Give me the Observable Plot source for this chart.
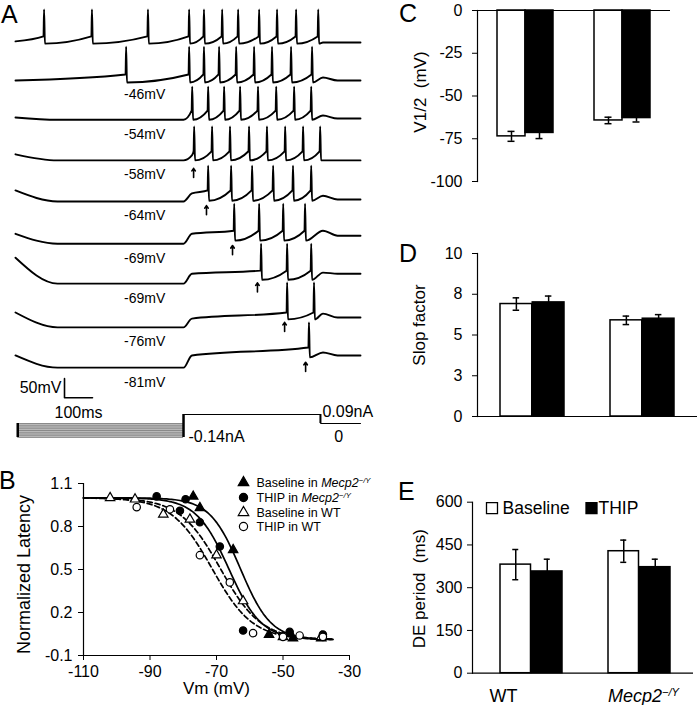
<!DOCTYPE html>
<html><head><meta charset="utf-8">
<script src="https://cdn.jsdelivr.net/npm/d3@7"></script>
<script src="https://cdn.jsdelivr.net/npm/@observablehq/plot@0.6"></script>
<style>
body{margin:0;background:#fff;}
#fig{position:relative;width:700px;height:705px;overflow:hidden;font-family:"Liberation Sans",Arial,sans-serif;background:#fff;color:#000;}
.plabel{position:absolute;font-size:25px;line-height:25px;}
.holder{position:absolute;}
</style></head><body><div id="fig"></div>
<script>
// ================= DATA =================
// ---- Panel A: voltage traces (ms, mV relative to each trace's resting level) ----
const traceOffset   = [0, -100, -200, -310, -413, -508, -608, -723, -823];
const traceLabel    = [null, "-46mV", "-54mV", "-58mV", "-64mV", "-69mV", "-69mV", "-76mV", "-81mV"];
const traceStart    = [3, 0, 3, 16, 24, 5, 42, 13, 0];
const traceSag      = [3, 0, -3, 0, -5, -21, -26, -26, -32];
const tracePlateau  = [9, 8, 11, 13, 16, 5, 0, -3, 0];
const tracePreSpike = [16, 16, 21, 24, 24, 13, 8, 13, 21];
const traceSpikeTop = [87, 89, 84, 89, 89, 84, 79, 92, 87];
const traceTrough   = [-3, -5, -3, 0, -3, -13, -16, -5, -5];
const traceBump     = [0, 8, 8, 0, 10, 13, 3, 10, 8];
const spikeTimes = [
  [100, 271, 471, 618, 671, 736, 793, 868, 932, 1000, 1079],
  [393, 618, 671, 725, 786, 850, 914, 982, 1057],
  [629, 686, 743, 800, 864, 929, 993, 1054],
  [636, 700, 764, 832, 896, 961, 1025, 1086],
  [686, 768, 843, 918, 989, 1054],
  [779, 868, 954, 1032],
  [875, 968, 1054],
  [968, 1064],
  [1046]
];
const arrowTrace = [3, 4, 5, 6, 7, 8];
const arrowTime  = [636, 682, 775, 864, 961, 1036];
const arrowTip   = [-21, -16, -26, -24, -13, -18];
const labelTime = 461;
const scaleBarT = [175, 175, 275];
const scaleBarV = [-884, -934, -934];
// protocol timing (ms)
const sagT = 150, stepOnT = 600, plateauT = 630, stepOffT = 1089, bumpT = 1098, settleT = 1150, endT = 1232;
// ---- Panel A: current protocol (nA) ----
const stimStartT = 8;
const hyperLevels = [0, -0.0175, -0.035, -0.0525, -0.07, -0.0875, -0.105, -0.1225, -0.14];
const depolT = [stepOnT, stepOffT, stepOffT, endT];
const depolI = [0.09, 0.09, 0, 0];

// ---- Panel B: normalized latency vs Vm ----
const seriesNames = ["Baseline in Mecp2\u2212/Y", "THIP in Mecp2\u2212/Y", "Baseline in WT", "THIP in WT"];
const seriesSymbol = ["triangle", "circle", "triangle", "circle"];
const seriesFill = ["black", "black", "white", "white"];
const vmBaseMecp2  = [-77, -75, -65, -54.2, -47, -38.5];
const latBaseMecp2 = [1.01, 0.93, 0.637, 0.046, 0.02, 0.02];
const vmThipMecp2  = [-88, -79.3, -81, -75, -69, -62, -48, -38];
const latThipMecp2 = [1.01, 0.99, 0.91, 0.83, 0.66, 0.074, 0.065, 0.047];
const vmBaseWT  = [-102, -94.5, -86, -78, -70, -62, -50, -38.5];
const latBaseWT = [1.0, 0.99, 0.885, 0.85, 0.6, 0.28, 0.03, 0.03];
const vmThipWT  = [-94, -84, -75, -66, -59, -50, -45, -38];
const latThipWT = [0.935, 0.92, 0.6, 0.41, 0.056, 0.03, 0.04, 0.03];
// Boltzmann fits
const fitV50   = [-62.8, -66.3, -68.8, -71.3];
const fitSlope = [4.6, 4.9, 6.1, 6.1];
const fitTop = 1.0, fitBottom = 0.01;
const fitRange = [-110, -35];

// ---- Panels C, D, E ----
const genotypes = ["WT", "Mecp2"];
const v12Base = [-73.6, -64.3], v12BaseErr = [2.9, 1.9];
const v12Thip = [-71.6, -62.9], v12ThipErr = [3.3, 2.3];
const slopeBase = [6.9, 5.9], slopeBaseErr = [0.38, 0.26];
const slopeThip = [7.0, 6.0], slopeThipErr = [0.39, 0.25];
const deBase = [381, 428], deBaseErr = [53, 39];
const deThip = [357, 372], deThipErr = [43, 28];

// ================= DRAWING =================
const fig = document.getElementById("fig");
const FONT = "Liberation Sans, Arial, sans-serif";
const baseStyle = {background: "transparent", fontFamily: FONT, fontSize: "16px", overflow: "visible", maxWidth: "none", color: "black"};
const fmt = d => String(d);
const ns = "http://www.w3.org/2000/svg";

function place(el, left, top, w, h) {
  const d = document.createElement("div");
  d.className = "holder";
  d.style.left = left + "px"; d.style.top = top + "px";
  d.style.width = w + "px"; d.style.height = h + "px";
  d.appendChild(el);
  fig.appendChild(d);
  geneStyle(el);
}
function geneStyle(svg) {
  svg.querySelectorAll("text").forEach(t => {
    const s = t.textContent;
    const i = s.indexOf("Mecp2");
    if (i < 0) return;
    const pre = s.slice(0, i), sup = s.slice(i + 5);
    while (t.firstChild) t.removeChild(t.firstChild);
    if (pre) t.appendChild(document.createTextNode(pre));
    const it = document.createElementNS(ns, "tspan");
    it.setAttribute("font-style", "italic"); it.textContent = "Mecp2"; t.appendChild(it);
    if (sup) {
      const su = document.createElementNS(ns, "tspan");
      su.setAttribute("font-style", "italic"); su.setAttribute("dy", "-0.5em");
      su.setAttribute("font-size", "0.62em"); su.textContent = sup; t.appendChild(su);
    }
  });
}
function letter(ch, left, top) {
  const d = document.createElement("div");
  d.className = "plabel"; d.textContent = ch;
  d.style.left = left + "px"; d.style.top = top + "px";
  fig.appendChild(d);
}

// ---------- Panel A traces ----------
function buildTrace(k) {
  const pts = [];
  const push = (t, v) => pts.push({trace: k, t, v: traceOffset[k] + v});
  const sp = spikeTimes[k];
  push(0, traceStart[k]);
  if (sp[0] > stepOnT) {
    push(sagT, traceSag[k]);
    push(stepOnT, traceSag[k]);
    if (sp[0] > plateauT + 5) push(plateauT, tracePlateau[k]);
  }
  sp.forEach(ts => {
    push(ts, tracePreSpike[k]);
    push(ts + 2, traceSpikeTop[k]);
    push(ts + 5, traceTrough[k]);
  });
  const last = sp[sp.length - 1] + 5;
  if (last < bumpT) push(bumpT, traceBump[k]);
  push(settleT, 0);
  push(endT, 0);
  return pts;
}
const traceRows = traceOffset.flatMap((_, k) => buildTrace(k));
const labelRows = traceLabel.map((label, k) => ({label, t: labelTime, v: traceOffset[k] + traceSag[k] - 38})).filter(d => d.label);
const arrowRows = arrowTrace.map((k, i) => ({t: arrowTime[i], y1: traceOffset[k] + arrowTip[i] - 24, y2: traceOffset[k] + arrowTip[i]}));
const scaleRows = scaleBarT.map((t, i) => ({t, v: scaleBarV[i]}));

const plotA = Plot.plot({
  width: 380, height: 420, marginLeft: 15, marginRight: 20, marginTop: 0, marginBottom: 0,
  style: baseStyle,
  x: {domain: [0, endT], axis: null},
  y: {domain: [-994, 110.5], axis: null},
  marks: [
    Plot.line(traceRows, {x: "t", y: "v", z: "trace", curve: "monotone-x", stroke: "black", strokeWidth: 1.9}),
    Plot.text(labelRows, {x: "t", y: "v", text: "label", fontSize: 14}),
    Plot.arrow(arrowRows, {x1: "t", x2: "t", y1: "y1", y2: "y2", headLength: 5, headAngle: 70, strokeWidth: 1.6, stroke: "black"}),
    Plot.line(scaleRows, {x: "t", y: "v", stroke: "black", strokeWidth: 1.6}),
    Plot.text(["50mV"], {x: scaleBarT[0], y: (scaleBarV[0] + scaleBarV[1]) / 2, text: d => d, textAnchor: "end", dx: -3, fontSize: 16}),
    Plot.text(["100ms"], {x: (scaleBarT[1] + scaleBarT[2]) / 2, y: scaleBarV[2], text: d => d, dy: 15, fontSize: 16})
  ]
});
place(plotA, 0, 0, 380, 420);

// ---------- Panel A stimulus ----------
const depolRows = depolT.map((t, i) => ({t, i: depolI[i]}));
const plotStim = Plot.plot({
  width: 380, height: 45, marginLeft: 15, marginRight: 20, marginTop: 0, marginBottom: 0,
  style: baseStyle,
  x: {domain: [0, endT], axis: null},
  y: {domain: [-0.27, 0.18], axis: null},
  marks: [
    Plot.areaY([stimStartT, stepOnT], {x: d => d, y1: hyperLevels[0], y2: hyperLevels[hyperLevels.length - 1], fill: "#c9c9c9"}),
    Plot.ruleY(hyperLevels, {x1: stimStartT, x2: stepOnT, stroke: "#7a7a7a", strokeWidth: 0.8}),
    Plot.ruleX([stimStartT], {y1: hyperLevels[hyperLevels.length - 1], y2: 0, stroke: "black", strokeWidth: 2.5}),
    Plot.ruleX([stepOnT], {y1: hyperLevels[hyperLevels.length - 1], y2: depolI[0], stroke: "black", strokeWidth: 2.5}),
    Plot.ruleX([stepOffT], {y1: 0, y2: depolI[0], stroke: "black", strokeWidth: 2}),
    Plot.line(depolRows, {x: "t", y: "i", stroke: "black", strokeWidth: 1}),
    Plot.text(["-0.14nA"], {x: stepOnT, y: hyperLevels[hyperLevels.length - 1], text: d => d, textAnchor: "start", dx: 5, dy: -1, fontSize: 16}),
    Plot.text(["0.09nA"], {x: stepOffT, y: depolI[0], text: d => d, textAnchor: "start", dx: 2, dy: -3, fontSize: 16}),
    Plot.text(["0"], {x: (stepOffT + endT) / 2 - 6, y: 0, text: d => d, dy: 13, fontSize: 16})
  ]
});
place(plotStim, 0, 405, 380, 45);

// ---------- Panel B ----------
const ptsB = [
  vmBaseMecp2.map((v, i) => ({s: 0, v, lat: latBaseMecp2[i]})),
  vmThipMecp2.map((v, i) => ({s: 1, v, lat: latThipMecp2[i]})),
  vmBaseWT.map((v, i) => ({s: 2, v, lat: latBaseWT[i]})),
  vmThipWT.map((v, i) => ({s: 3, v, lat: latThipWT[i]}))
];
const vmGrid = d3.range(fitRange[0], fitRange[1] + 0.01, 0.5);
const fitRows = fitV50.flatMap((v50, s) => vmGrid.map(v => ({s, v, lat: fitBottom + (fitTop - fitBottom) / (1 + Math.exp((v - v50) / fitSlope[s]))})));
const symR = {triangle: 3.5, circle: 3.7};
const legendDy = [-1, 14, 29, 43];
const marksB = [
  Plot.ruleX([-110], {stroke: "black", strokeWidth: 1.2}),
  Plot.ruleY([-0.1], {stroke: "black", strokeWidth: 1.2}),
  Plot.line(fitRows.filter(d => d.s < 2), {x: "v", y: "lat", z: "s", stroke: "black", strokeWidth: 1.7}),
  Plot.line(fitRows.filter(d => d.s >= 2), {x: "v", y: "lat", z: "s", stroke: "black", strokeWidth: 1.7, strokeDasharray: "5,3"}),
  ...ptsB.map((rows, s) => Plot.dot(rows, {x: "v", y: "lat", symbol: seriesSymbol[s], r: symR[seriesSymbol[s]], fill: seriesFill[s], stroke: "black", strokeWidth: 1.2})),
  ...seriesNames.map((name, s) => Plot.dot([name], {frameAnchor: "top-left", dx: 160, dy: legendDy[s], symbol: seriesSymbol[s], r: symR[seriesSymbol[s]] + 0.4, fill: seriesFill[s], stroke: "black", strokeWidth: 1.2})),
  ...seriesNames.map((name, s) => Plot.text([name], {frameAnchor: "top-left", dx: 173, dy: legendDy[s], text: d => d, textAnchor: "start", lineAnchor: "middle", fontSize: 12.5})),
  Plot.text(["Vm (mV)"], {frameAnchor: "bottom", dy: 33, text: d => d, fontSize: 17, lineAnchor: "middle"}),
  Plot.text(["Normalized Latency"], {frameAnchor: "left", dx: -59, dy: 5, rotate: -90, text: d => d, fontSize: 18, textAnchor: "middle", lineAnchor: "middle"})
];
const plotB = Plot.plot({
  width: 380, height: 245, marginLeft: 83, marginRight: 31, marginTop: 23, marginBottom: 50,
  style: baseStyle,
  x: {domain: [-110, -30], ticks: [-110, -90, -70, -50, -30], tickFormat: fmt, tickSize: 5, tickPadding: 5, label: null},
  y: {domain: [-0.1, 1.1], ticks: [-0.1, 0.2, 0.5, 0.8, 1.1], tickFormat: fmt, tickSize: 5, tickPadding: 6, label: null},
  marks: marksB
});
place(plotB, 0, 460, 380, 245);

// ---------- Bar panels ----------
function barPanel(cfg) {
  const rows = genotypes.map((g, i) => ({g, b: cfg.base[i], be: cfg.baseErr[i], t: cfg.thip[i], te: cfg.thipErr[i]}));
  const bw = cfg.bw, half = bw / 2, q = bw / 4, cap = 3.5;
  const marks = [
    Plot.barY(rows, {x: "g", y: "b", fill: "white", stroke: "black", strokeWidth: 1.5, insetRight: half}),
    Plot.barY(rows, {x: "g", y: "t", fill: "black", stroke: "black", strokeWidth: 1.5, insetLeft: half}),
    Plot.ruleX(rows, {x: "g", y1: d => d.b - d.be, y2: d => d.b + d.be, dx: -q, stroke: "black", strokeWidth: 1.5}),
    Plot.tickY(rows, {x: "g", y: d => d.b - d.be, insetLeft: q - cap, insetRight: bw - q - cap, stroke: "black", strokeWidth: 1.5}),
    Plot.tickY(rows, {x: "g", y: d => d.b + d.be, insetLeft: q - cap, insetRight: bw - q - cap, stroke: "black", strokeWidth: 1.5}),
    Plot.ruleX(rows, {x: "g", y1: d => d.t - d.te, y2: d => d.t + d.te, dx: q, stroke: "black", strokeWidth: 1.5}),
    Plot.tickY(rows, {x: "g", y: d => d.t - d.te, insetLeft: bw - q - cap, insetRight: q - cap, stroke: "black", strokeWidth: 1.5}),
    Plot.tickY(rows, {x: "g", y: d => d.t + d.te, insetLeft: bw - q - cap, insetRight: q - cap, stroke: "black", strokeWidth: 1.5}),
    Plot.frame({anchor: "left", stroke: "black", strokeWidth: 1.2}),
    Plot.ruleY([0], {stroke: "black", strokeWidth: 1.2}),
    Plot.text([cfg.ylabel], {frameAnchor: "left", dx: cfg.ylabelDx, dy: cfg.ylabelDy, rotate: -90, text: d => d, fontSize: 17, textAnchor: "middle", lineAnchor: "middle"}),
    ...(cfg.extra || [])
  ];
  return Plot.plot({
    width: cfg.width, height: cfg.height,
    marginLeft: cfg.ml, marginRight: cfg.mr, marginTop: cfg.mt, marginBottom: cfg.mb,
    style: baseStyle,
    x: {type: "band", domain: genotypes, paddingInner: cfg.pi, paddingOuter: cfg.po, align: cfg.align, axis: null},
    y: {domain: cfg.yDomain, ticks: cfg.yTicks, tickFormat: cfg.tickFormat, tickSize: 5, tickPadding: cfg.tickPadding, label: null},
    marks
  });
}

const plotC = barPanel({
  width: 300, height: 230, ml: 77, mr: 30, mt: 10, mb: 49, bw: 56, pi: 0.4256, po: 0.205, align: 0.5,
  yDomain: [-100, 0], yTicks: [0, -25, -50, -75, -100], tickFormat: fmt, tickPadding: 10,
  base: v12Base, baseErr: v12BaseErr, thip: v12Thip, thipErr: v12ThipErr,
  ylabel: "V1/2 \u00a0(mV)", ylabelDx: -57, ylabelDy: -4
});
place(plotC, 400, 0, 300, 230);

const plotD = barPanel({
  width: 300, height: 220, ml: 77, mr: 3, mt: 23, mb: 34, bw: 64.5, pi: 0.414, po: 0.207, align: 0.5,
  yDomain: [0, 10], yTicks: [0, 2.5, 5, 7.5, 10], tickFormat: d => d.toFixed(0), tickPadding: 10,
  base: slopeBase, baseErr: slopeBaseErr, thip: slopeThip, thipErr: slopeThipErr,
  ylabel: "Slop factor", ylabelDx: -58, ylabelDy: -10
});
place(plotD, 400, 230, 300, 220);

const plotE = barPanel({
  width: 300, height: 255, ml: 72, mr: 7, mt: 51.7, mb: 32.3, bw: 63, pi: 0.422, po: 0.225, align: 0.55,
  yDomain: [0, 600], yTicks: [0, 150, 300, 450, 600], tickFormat: fmt, tickPadding: 5,
  base: deBase, baseErr: deBaseErr, thip: deThip, thipErr: deThipErr,
  ylabel: "DE period \u00a0(ms)", ylabelDx: -53, ylabelDy: 1,
  extra: [
    Plot.text([genotypes[0]], {x: d => d, frameAnchor: "bottom", dx: -28, dy: 23, text: d => d, fontSize: 18, lineAnchor: "middle"}),
    Plot.text([genotypes[1]], {x: d => d, frameAnchor: "bottom", dx: 4, dy: 23, text: () => "Mecp2\u2212/Y", fontSize: 18, lineAnchor: "middle"}),
    Plot.dot(["Baseline"], {frameAnchor: "top-left", dx: 19.5, dy: 6, symbol: "square", r: 6.2, fill: "white", stroke: "black", strokeWidth: 1.3}),
    Plot.text(["Baseline"], {frameAnchor: "top-left", dx: 30, dy: 6, text: d => d, textAnchor: "start", lineAnchor: "middle", fontSize: 17.5}),
    Plot.dot(["THIP"], {frameAnchor: "top-left", dx: 119, dy: 6, symbol: "square", r: 6.2, fill: "black", stroke: "black", strokeWidth: 1.3}),
    Plot.text(["THIP"], {frameAnchor: "top-left", dx: 126, dy: 6, text: d => d, textAnchor: "start", lineAnchor: "middle", fontSize: 17.5})
  ]
});
place(plotE, 400, 450, 300, 255);

// ---------- Panel letters ----------
letter("A", 1, 2);
letter("B", -1, 468);
letter("C", 399, 1);
letter("D", 399, 241);
letter("E", 398, 479);
</script></body></html>
